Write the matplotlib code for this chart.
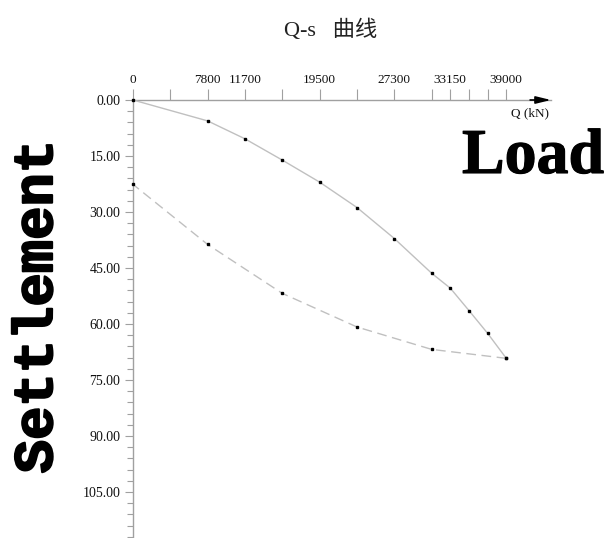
import matplotlib
matplotlib.use("Agg")
import matplotlib.pyplot as plt
from matplotlib.ticker import FixedLocator, MultipleLocator, FuncFormatter
import matplotlib.patheffects as pe

# loading branch
load_q = [0, 7800, 11700, 15600, 19500, 23400, 27300, 31200, 33150, 35100, 37050, 39000]
load_s = [0.0, 5.6, 10.4, 16.1, 22.0, 28.8, 37.1, 46.4, 50.4, 56.4, 62.5, 69.2]
# unloading branch
unload_q = [39000, 31200, 23400, 15600, 7800, 0]
unload_s = [69.2, 66.8, 60.8, 51.8, 38.7, 22.6]

q_ticks = [0, 3900, 7800, 11700, 15600, 19500, 23400, 27300, 31200, 33150, 35100, 37050, 39000]
q_labels = ["0", "", "7800", "11700", "", "19500", "", "27300", "", "33150", "", "", "39000"]

W, H = 606, 538
fig = plt.figure(figsize=(W / 100, H / 100), dpi=100)
fig.patch.set_facecolor("white")

x0, y0 = 133, 100          # origin pixel
x_end = 551                # end of x axis (arrow tip)
px_per_kn = (506.3 - 133) / 39000
px_per_s = 56 / 15.0

ax = fig.add_axes([x0 / W, 0, (x_end - x0) / W, (H - y0) / H])
ax.set_xlim(0, (x_end - x0) / px_per_kn)
ax.set_ylim((H - y0) / px_per_s, 0)

axis_col = "#a0a0a0"
for s in ["right", "bottom"]:
    ax.spines[s].set_visible(False)
for s in ["top", "left"]:
    ax.spines[s].set_color(axis_col)
    ax.spines[s].set_linewidth(1.0)

ax.xaxis.set_ticks_position("top")
ax.xaxis.set_major_locator(FixedLocator(q_ticks))
ax.set_xticklabels(q_labels)
ax.tick_params(axis="x", which="major", direction="out", length=8, width=0.8,
               color=axis_col, pad=2, labelsize=9.5, labelcolor="#111111")

ax.yaxis.set_major_locator(FixedLocator([0, 15, 30, 45, 60, 75, 90, 105]))
ax.yaxis.set_minor_locator(MultipleLocator(3))
ax.yaxis.set_major_formatter(FuncFormatter(lambda v, p: "%.2f" % v))
ax.tick_params(axis="y", which="major", direction="out", length=6, width=0.8,
               color=axis_col, pad=3, labelsize=10, labelcolor="#111111")
ax.tick_params(axis="y", which="minor", direction="out", length=4, width=0.8,
               color=axis_col)
for lab in ax.get_xticklabels() + ax.get_yticklabels():
    lab.set_fontfamily("Liberation Serif")

ax.plot(load_q, load_s, color="#c0c0c0", lw=1.0, marker="s", ms=1.6,
        mfc="black", mec="black", clip_on=False, zorder=3)
ax.plot(unload_q, unload_s, color="#c0c0c0", lw=1.0, ls=(0, (7, 4)), marker="s",
        ms=1.6, mfc="black", mec="black", clip_on=False, zorder=3)

# arrow at end of Q axis
ax.annotate("", xy=(1.0, 1.0), xytext=(0.95, 1.0), xycoords="axes fraction",
            arrowprops=dict(arrowstyle="-|>,head_length=0.9,head_width=0.22",
                            color="black", lw=1.2, shrinkA=0, shrinkB=0),
            annotation_clip=False)

fig.text(530 / W, 1 - 113 / H, "Q (kN)", ha="center", va="center", fontsize=9.5,
         family="Liberation Serif", color="#111111")

fig.text(331 / W, 1 - 30 / H, "Q-s   曲线", ha="center", va="center", fontsize=16,
         family=["Liberation Serif", "Noto Sans CJK SC"], color="#222222")

fig.text(604 / W, 1 - 158 / H, "Load", ha="right", va="center", fontsize=46,
         family="Liberation Serif", fontweight="bold", color="black",
         path_effects=[pe.withStroke(linewidth=0.8, foreground="black")])

fig.text(38 / W, 1 - 307 / H, "Settlement", ha="center", va="center", rotation=90,
         fontsize=40, family="Liberation Mono", fontweight="bold", color="black",
         path_effects=[pe.withStroke(linewidth=1.5, foreground="black")])

fig.savefig("out.png", dpi=100)
